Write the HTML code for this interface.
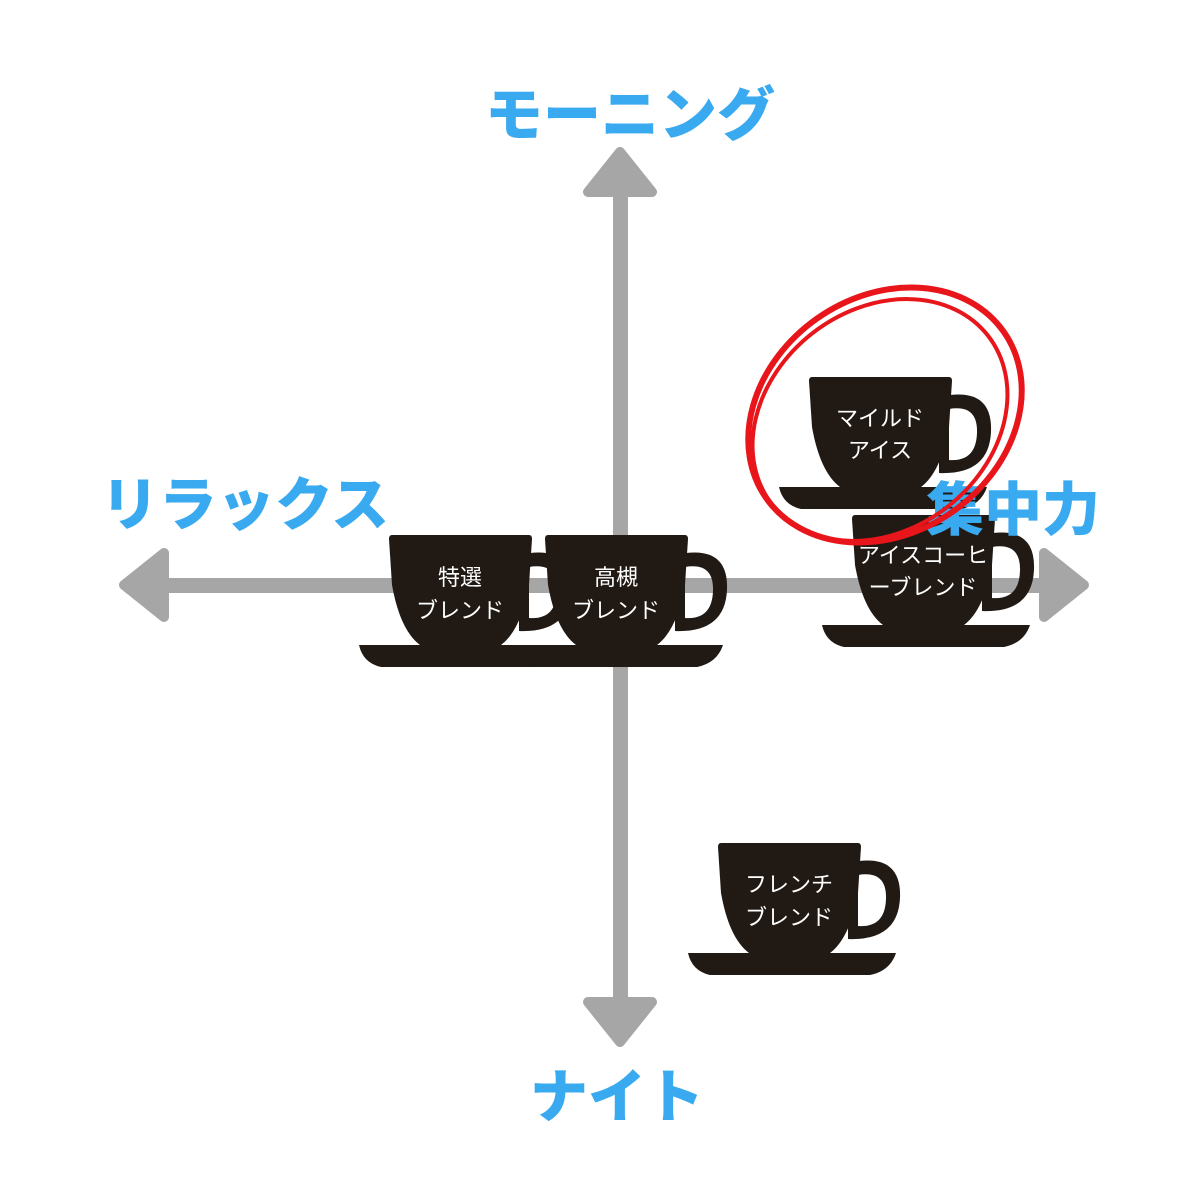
<!DOCTYPE html>
<html><head><meta charset="utf-8"><style>
html,body{margin:0;padding:0;background:#fff;}
svg{display:block}
.lbl{font-family:"Liberation Sans","Noto Sans CJK JP",sans-serif;font-weight:900;fill:#3aaaf0;font-size:58px}
.ct{font-family:"Liberation Sans","Noto Sans CJK JP",sans-serif;fill:#fff;font-size:22px;text-anchor:middle}
</style></head><body>
<svg width="1200" height="1200" viewBox="0 0 1200 1200" xmlns="http://www.w3.org/2000/svg">
<defs>
<g id="cup">
<path fill="#211a14" fill-rule="evenodd" d="M130,20 Q184,8 182,55 Q180,98 130,96 Z M140,32 L140,83 Q167,85 168,56 Q169,27 140,32 Z"/>
<path fill="#211a14" d="M3,0 H140 Q143,0 143,4 L140,50 Q132,95 112,110 H31 Q11,95 3,50 L0,4 Q0,0 3,0 Z"/>
<path fill="#211a14" d="M-30,110 H178 Q172,128 152,132 H-8 Q-26,128 -30,110 Z"/>
</g>
</defs>
<g fill="#a6a6a6" stroke="#a6a6a6" stroke-linejoin="round">
<rect x="613" y="180" width="15" height="830" stroke="none"/>
<rect x="150" y="578" width="910" height="15" stroke="none"/>
<path d="M620,152 L652,192 L588,192 Z" stroke-width="10"/>
<path d="M620,1042 L652,1002 L588,1002 Z" stroke-width="10"/>
<path d="M124,585 L164,553 L164,617 Z" stroke-width="10"/>
<path d="M1084,585 L1044,553 L1044,617 Z" stroke-width="10"/>
</g>
<use href="#cup" x="389" y="535"/>
<text class="ct" x="460" y="585">特選</text>
<text class="ct" x="460" y="618">ブレンド</text>
<use href="#cup" x="545" y="535"/>
<text class="ct" x="616" y="585">高槻</text>
<text class="ct" x="616" y="618">ブレンド</text>
<use href="#cup" x="852" y="515"/>
<text class="ct" x="923" y="563">アイスコーヒ</text>
<text class="ct" x="923" y="595">ーブレンド</text>
<use href="#cup" x="809" y="377"/>
<text class="ct" x="880" y="426">マイルド</text>
<text class="ct" x="880" y="458">アイス</text>
<use href="#cup" x="718" y="843"/>
<text class="ct" x="789" y="892">フレンチ</text>
<text class="ct" x="789" y="925">ブレンド</text>
<text class="lbl" x="630" y="135" text-anchor="middle">モーニング</text>
<text class="lbl" x="245" y="525" text-anchor="middle">リラックス</text>
<text class="lbl" x="926" y="530">集中力</text>
<text class="lbl" x="617" y="1117" text-anchor="middle">ナイト</text>
<g fill="none" stroke="#e8161b" stroke-linecap="round">
<ellipse cx="885" cy="415" rx="145" ry="118" transform="rotate(-35 885 415)" stroke-width="6"/>
<ellipse cx="880" cy="420" rx="137" ry="110" transform="rotate(-38 880 420)" stroke-width="4"/>
</g>
</svg>
</body></html>
